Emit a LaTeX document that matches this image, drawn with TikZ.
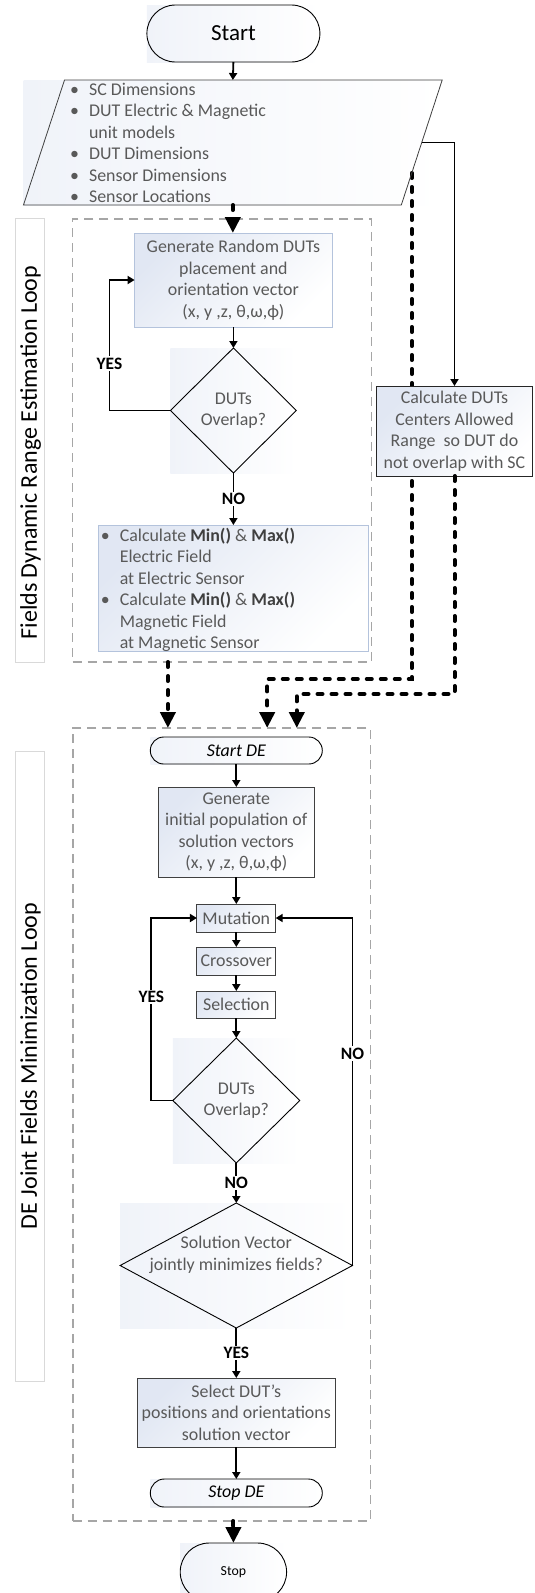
\documentclass[tikz,border=0pt]{standalone}
\usepackage{fontspec}
\setmainfont{Carlito}
\usetikzlibrary{shapes.geometric,shapes.misc,arrows.meta,calc}
\pgfdeclarelayer{background}
\pgfsetlayers{background,main}
\definecolor{txtgray}{HTML}{595959}
\definecolor{boldgray}{HTML}{3F3F3F}
\definecolor{lblue}{HTML}{B4C3DC}
\definecolor{shadeblue}{HTML}{E1E7F3}
\definecolor{dashgray}{HTML}{A6A6A6}
\definecolor{labgray}{HTML}{D9D9D9}
\definecolor{boxline}{HTML}{404040}
\newcommand\mybul{\makebox[28.8pt]{\textbullet}}
\begin{document}
\begin{tikzpicture}[x=1pt,y=-1pt,
 every node/.style={inner sep=0pt, outer sep=0pt},
 bfont/.style={font=\fontsize{17.9}{21.5}\selectfont, text=txtgray, align=center},
 gfill/.style={top color=shadeblue, bottom color=white, shading angle=45},
 bgshade/.style={left color=shadeblue!50, right color=white},
 term/.style={rounded rectangle, draw=black, line width=0.9pt},
 procA/.style={rectangle, draw=lblue, line width=1pt, gfill, bfont},
 procB/.style={rectangle, draw=boxline, line width=1pt, gfill, bfont},
 decision/.style={diamond, draw=black, line width=0.9pt, bfont},
 arr/.style={line width=1.8pt, -{Triangle[width=8pt,length=7pt]}},
 dotarr/.style={line width=4pt, line cap=round, dash pattern=on 5pt off 9pt, -{Triangle[width=15pt,length=16pt]}},
 lab/.style={fill=white, inner sep=1.5pt, font=\bfseries\fontsize{17.4}{20}\selectfont},
 loopbox/.style={draw=dashgray, line width=1.6pt, dash pattern=on 9pt off 6pt},
 sidebox/.style={draw=labgray, line width=0.8pt},
 sidetext/.style={rotate=90, font=\fontsize{24}{28}\selectfont}]
\useasboundingbox (0,0) rectangle (535,1593);
\clip (0,0) rectangle (535,1593);

% loop frames and side labels
\node[loopbox, minimum width=298.9pt, minimum height=443pt] (loop1) at (222.1,440.5) {};
\node[sidebox, minimum width=28.6pt, minimum height=444pt] (lab1) at (29.7,440) {};
\node[sidetext] (lab1t) at (30.5,452.5) {Fields Dynamic Range Estimation Loop};
\node[loopbox, minimum width=297.8pt, minimum height=793pt] (loop2) at (221.6,1124.5) {};
\node[sidebox, minimum width=28.6pt, minimum height=630pt] (lab2) at (29.7,1066) {};
\node[sidetext] (lab2t) at (30.5,1066) {DE Joint Fields Minimization Loop};

% top part
\node[term, minimum width=173pt, minimum height=57pt, font=\fontsize{23}{27}\selectfont] (start) at (233.4,33.5) {Start};
\coordinate (pTL) at (64.5,80);
\coordinate (pTR) at (442.2,80);
\coordinate (pBR) at (401.3,205);
\coordinate (pBL) at (23.5,205);
\draw[draw=boxline, line width=0.8pt] (pTL) -- (pTR) -- (pBR) -- (pBL) -- cycle;
\node[minimum width=377.8pt, minimum height=125pt] (inp) at (232.85,142.5) {};
\node[anchor=base west, font=\fontsize{17.9}{21.5}\selectfont, text=txtgray] (inptxt) at (60.3,95)
 {\begin{tabular}[t]{@{}l@{}l@{}}
 \mybul & SC Dimensions\\
 \mybul & DUT Electric \& Magnetic\\
        & unit models\\
 \mybul & DUT Dimensions\\
 \mybul & Sensor Dimensions\\
 \mybul & Sensor Locations
 \end{tabular}};

\node[procA, minimum width=197.6pt, minimum height=94pt] (gen1) at (233.4,280)
 {Generate Random DUTs\\placement and\\orientation vector\\(x, y ,z, θ,ω,ϕ)};
\node[decision, minimum width=125.9pt, minimum height=125pt] (dia1) at (233.4,410.5) {DUTs\\Overlap?};
\node[procA, minimum width=269.2pt, minimum height=126pt] (minmax) at (233.4,588) {};
\node[anchor=base west, font=\fontsize{17.9}{21.5}\selectfont, text=txtgray] (minmaxtxt) at (91,541)
 {\begin{tabular}[t]{@{}l@{}l@{}}
 \mybul & Calculate \textcolor{boldgray}{\bfseries Min()} \& \textcolor{boldgray}{\bfseries Max()}\\
        & Electric Field\\
        & at Electric Sensor\\
 \mybul & Calculate \textcolor{boldgray}{\bfseries Min()} \& \textcolor{boldgray}{\bfseries Max()}\\
        & Magnetic Field\\
        & at Magnetic Sensor
 \end{tabular}};
\node[rectangle, draw=black!85, line width=0.9pt, gfill, bfont, minimum width=155.6pt, minimum height=90pt] (calcC) at (454.5,431)
 {Calculate DUTs\\Centers Allowed\\Range\ \ so DUT do\\not overlap with SC};

% DE loop
\node[term, minimum width=172pt, minimum height=27pt, font=\itshape\fontsize{17.9}{21.5}\selectfont] (startde) at (236.3,750.5) {Start DE};
\node[procB, minimum width=156.6pt, minimum height=90pt] (gen2) at (236.3,832)
 {Generate\\initial population of\\solution vectors\\(x, y ,z, θ,ω,ϕ)};
\node[procB, minimum width=78.8pt, minimum height=28pt] (mut) at (236.3,918) {Mutation};
\node[procB, minimum width=78.8pt, minimum height=28pt] (cross) at (236.3,961) {Crossover};
\node[procB, minimum width=78.8pt, minimum height=27pt] (sel) at (236.3,1004.5) {Selection};
\node[decision, minimum width=126.9pt, minimum height=125pt] (dia2) at (236.3,1100.5) {DUTs\\Overlap?};
\node[decision, minimum width=232.3pt, minimum height=125pt] (dia3) at (236.3,1265.5) {};
\node[bfont] (dia3t) at (236.3,1255) {Solution Vector\\jointly minimizes fields?};
\node[procB, minimum width=197.5pt, minimum height=69pt] (select) at (236.3,1412.5)
 {Select DUT’s\\positions and orientations\\solution vector};
\node[term, minimum width=172pt, minimum height=28pt, font=\itshape\fontsize{17.9}{21.5}\selectfont] (stopde) at (236.3,1493) {Stop DE};
\node[term, minimum width=106.4pt, minimum height=58pt, font=\fontsize{13.8}{16}\selectfont] (stop) at (233.4,1572) {Stop};

% free ends of the dotted connectors
\coordinate (e1) at (167.9,728);
\coordinate (e2) at (267.2,728);
\coordinate (e3) at (296.8,728);
\coordinate (inpR) at ($(pBR)!0.256!(pTR)$);

% connectors
\draw[arr] (start.south) -- (inp.north);
\draw[dotarr] (inp.south) -- (inp.south |- gen1.north);
\draw[arr] (gen1.south) -- (dia1.north);
\draw[arr] (dia1.west) -- ++(-61,0) coordinate (c1) -- node[lab, pos=0.36]{YES} (c1 |- gen1.west) -- (gen1.west);
\draw[arr] (dia1.south) -- node[lab]{NO} (minmax.north);
\draw[arr] (inp.east) -| (calcC.north);
\draw[dotarr] (calcC.south) -- ++(0,218) -| (e3);
\draw[dotarr] (loop1.south -| e1) -- (e1);

\draw[arr] (startde.south) -- (gen2.north);
\draw[arr] (gen2.south) -- (mut.north);
\draw[arr] (mut.south) -- (cross.north);
\draw[arr] (cross.south) -- (sel.north);
\draw[arr] (sel.south) -- (dia2.north);
\draw[arr] (dia2.west) -- ++(-21.5,0) coordinate (c2) -- node[lab, pos=0.567]{YES} (c2 |- mut.west) -- (mut.west);
\draw[arr] (dia2.south) -- node[lab]{NO} (dia3.north);
\draw[arr] (dia3.east) -- node[lab, pos=0.61]{NO} (dia3.east |- mut.east) -- (mut.east);
\draw[arr] (dia3.south) -- node[lab]{YES} (select.north);
\draw[arr] (select.south) -- (stopde.north);
\draw[dotarr] (loop2.south -| stop.north) -- (stop.north);

\begin{pgfonlayer}{background}
 \shade[bgshade] (pBL) rectangle (pTR);
 \shade[bgshade] (start.west |- start.north) rectangle (start.east |- start.south);
 \shade[bgshade] (dia1.west |- dia1.north) rectangle (dia1.east |- dia1.south);
 \shade[bgshade] (dia2.west |- dia2.north) rectangle (dia2.east |- dia2.south);
 \shade[bgshade] (dia3.west |- dia3.north) rectangle (dia3.east |- dia3.south);
 \shade[bgshade] (startde.west |- startde.north) rectangle (startde.east |- startde.south);
 \shade[bgshade] (stopde.west |- stopde.north) rectangle (stopde.east |- stopde.south);
 \shade[bgshade] (stop.west |- stop.north) rectangle (stop.east |- stop.south);
 \draw[dotarr] (inpR) -- ++(0,506) -| (e2);
\end{pgfonlayer}
\end{tikzpicture}
\end{document}
